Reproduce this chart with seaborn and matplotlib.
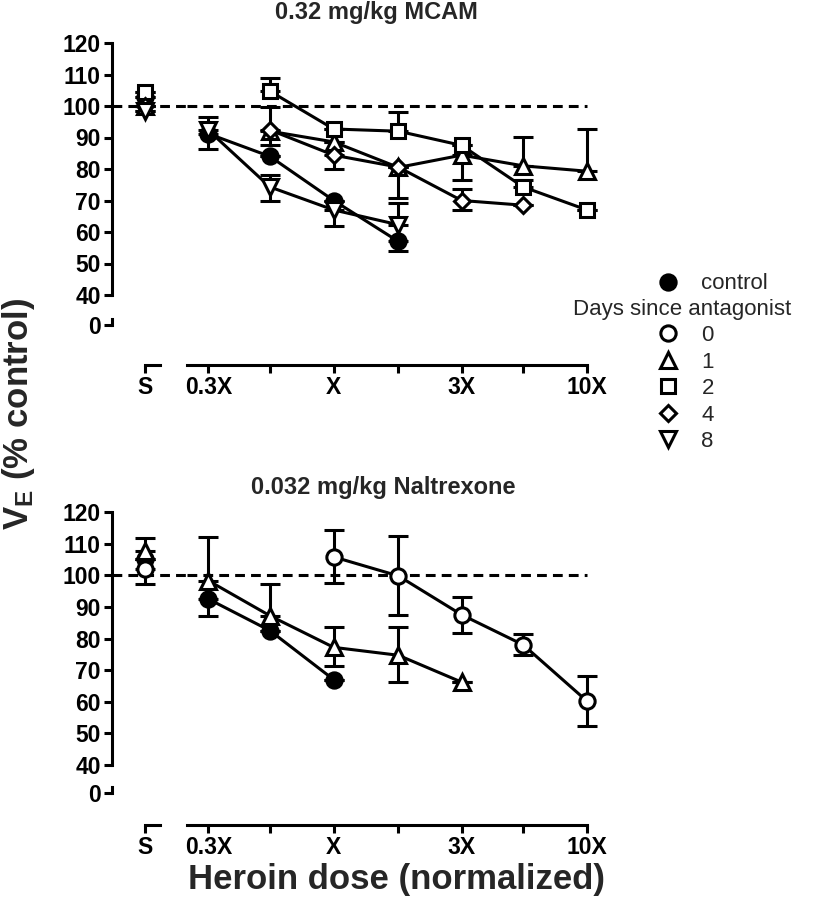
import matplotlib
matplotlib.use("Agg")
import numpy as np
import pandas as pd
import matplotlib.pyplot as plt
import seaborn as sns
from matplotlib.lines import Line2D
from matplotlib.ticker import NullLocator

# doses (fraction of X) and tick labels
doses = [0.32, 0.56, 1.0, 1.8, 3.2, 5.6, 10.0]
dose_labels = ["0.3X", "", "X", "", "3X", "", "10X"]
nan = np.nan

# ---- 0.32 mg/kg MCAM ----
mcam_s = {"control": 103, "1": 100, "2": 104.5, "4": 100, "8": 98.5}
mcam_control = [91.2, 84, 70, 57, nan, nan, nan]
mcam_control_lo = [5, 0, 0, 3, nan, nan, nan]
mcam_control_hi = [0, 0, 0, 0, nan, nan, nan]
mcam_d1 = [nan, 92, 88.6, 80.5, 84.4, 81, 79.3]
mcam_d1_lo = [nan, 0, 0, 0, 8, 0, 0]
mcam_d1_hi = [nan, 7.7, 0, 0, 0, 9.2, 13.5]
mcam_d2 = [nan, 104.7, 92.7, 92, 87.5, 74.3, 67]
mcam_d2_lo = [nan, 0, 0, 0, 0, 0, 0]
mcam_d2_hi = [nan, 4.2, 0, 6, 0, 2.3, 0]
mcam_d4 = [nan, 92.4, 84.4, 80.6, 70, 68.5, nan]
mcam_d4_lo = [nan, 4.8, 4.4, 9.8, 3, 0, nan]
mcam_d4_hi = [nan, 0, 0, 0, 3.6, 0, nan]
mcam_d8 = [92.3, 74.3, 67, 62.3, nan, nan, nan]
mcam_d8_lo = [0, 4.3, 5, 0, nan, nan, nan]
mcam_d8_hi = [4.2, 3.7, 0, 7, nan, nan, nan]

# ---- 0.032 mg/kg Naltrexone ----
nal_s = {"control": 105, "0": 102, "1": 107.8}
nal_s_lo = {"control": 0, "0": 4.7, "1": 0}
nal_s_hi = {"control": 0, "0": 0, "1": 4}
nal_control = [92.5, 82.5, 67, nan, nan, nan, nan]
nal_control_lo = [5.5, 0, 0, nan, nan, nan, nan]
nal_control_hi = [0, 0, 0, nan, nan, nan, nan]
nal_d0 = [nan, nan, 105.8, 99.8, 87.5, 78, 60.2]
nal_d0_lo = [nan, nan, 8.4, 12.5, 5.8, 3.3, 7.9]
nal_d0_hi = [nan, nan, 8.5, 12.6, 5.5, 3.5, 8]
nal_d1 = [98.3, 87.2, 77.2, 74.7, 66.2, nan, nan]
nal_d1_lo = [0, 0, 6, 8.5, 0, nan, nan]
nal_d1_hi = [13.7, 10, 6.3, 8.8, 0, nan, nan]

styles = {
    "control": ("o", "black"),
    "0": ("o", "white"),
    "1": ("^", "white"),
    "2": ("s", "white"),
    "4": ("D", "white"),
    "8": ("v", "white"),
}
msize = {"o": 11, "^": 11, "s": 10.5, "D": 8, "v": 11}

sns.set_theme(style="ticks")
plt.rcParams["font.family"] = ["Liberation Sans", "DejaVu Sans"]
plt.rcParams["mathtext.fontset"] = "custom"
plt.rcParams["mathtext.rm"] = "Liberation Sans"
plt.rcParams["mathtext.bf"] = "Liberation Sans:bold"

W, H = 825, 924
LW = 2.2
TICK_FS = 16.5
fig = plt.figure(figsize=(W / 100, H / 100), dpi=100)


def rect(x0, x1, y_top, y_bot):
    return [x0 / W, 1 - y_bot / H, (x1 - x0) / W, (y_bot - y_top) / H]


def draw_panel(y120, y40, yaxis, yzero, s_vals, s_lo, s_hi, series, title, title_xy):
    ppu = (y40 - y120) / 80.0
    ybot = 40 - (yaxis - y40) / ppu
    yax_x, s_px, gap_px, d_left, d_right = 112, 145, 187, 187, 600

    # S column
    axS = fig.add_axes(rect(yax_x, gap_px, y120, yaxis))
    axS.set_facecolor("none")
    axS.set_xlim(-(s_px - yax_x), gap_px - s_px)
    axS.set_ylim(ybot, 120)
    # dose column (log)
    axD = fig.add_axes(rect(d_left, d_right, y120, yaxis))
    axD.set_facecolor("none")
    axD.set_xscale("log")
    px_per_dec = 253.0
    xl0 = 10 ** (-0.5 - (207 - d_left) / px_per_dec)
    xl1 = 10 ** (1 + (d_right - 587) / px_per_dec)
    axD.set_xlim(xl0, xl1)
    axD.set_ylim(ybot, 120)

    for ax in (axS, axD):
        for sp in ax.spines.values():
            sp.set_linewidth(LW)
            sp.set_color("black")
        ax.spines["top"].set_visible(False)
        ax.spines["right"].set_visible(False)
        ax.tick_params(direction="out", length=6, width=LW, colors="black", pad=2)

    axS.spines["left"].set_bounds(40, 120)
    axS.spines["bottom"].set_bounds(0, 15)
    axS.set_yticks(range(40, 121, 10), [str(v) for v in range(40, 121, 10)],
                   fontsize=TICK_FS, fontweight="bold")
    axS.set_xticks([0], ["S"], fontsize=TICK_FS, fontweight="bold")

    axD.spines["left"].set_visible(False)
    axD.spines["bottom"].set_bounds(xl0, 10)
    axD.tick_params(left=False, labelleft=False)
    axD.set_xticks(doses, dose_labels, fontsize=TICK_FS, fontweight="bold")
    axD.xaxis.set_minor_locator(NullLocator())

    # dashed 100% reference
    axS.axhline(100, color="black", lw=LW, ls=(0, (3.2, 2.0)), zorder=1)
    axD.hlines(100, xl0, 10, color="black", lw=LW, ls=(0, (3.2, 2.0)), zorder=1)

    for key, (vals, lo, hi) in series.items():
        m, fc = styles[key]
        df = pd.DataFrame({"dose": doses, "ve": vals, "lo": lo, "hi": hi}).dropna()
        axD.errorbar(df["dose"], df["ve"], yerr=[df["lo"], df["hi"]], fmt="none",
                     ecolor="black", elinewidth=LW, capsize=7, capthick=LW, zorder=2)
        sns.lineplot(data=df, x="dose", y="ve", ax=axD, color="black", lw=LW,
                     marker=m, markersize=msize[m], markerfacecolor=fc,
                     markeredgecolor="black", markeredgewidth=LW,
                     errorbar=None, legend=False, zorder=3)
        # S point
        sdf = pd.DataFrame({"x": [0], "ve": [s_vals[key]]})
        axS.errorbar(sdf["x"], sdf["ve"], yerr=[[s_lo.get(key, 0)], [s_hi.get(key, 0)]],
                     fmt="none", ecolor="black", elinewidth=LW, capsize=7,
                     capthick=LW, zorder=2)
        sns.lineplot(data=sdf, x="x", y="ve", ax=axS, color="black", lw=0,
                     marker=m, markersize=msize[m], markerfacecolor=fc,
                     markeredgecolor="black", markeredgewidth=LW,
                     errorbar=None, legend=False, zorder=3)
    axS.set_xlabel("")
    axS.set_ylabel("")
    axD.set_xlabel("")
    axD.set_ylabel("")

    # broken y-axis stub at 0
    axZ = fig.add_axes(rect(yax_x, yax_x + 10, yzero - 12, yzero + 2))
    axZ.set_facecolor("none")
    axZ.set_ylim(-2 / ppu, 12 / ppu)
    for sp in ("top", "right", "bottom"):
        axZ.spines[sp].set_visible(False)
    axZ.spines["left"].set_linewidth(LW)
    axZ.spines["left"].set_color("black")
    axZ.spines["left"].set_bounds(0, 1.8)
    axZ.set_xticks([])
    axZ.set_yticks([0], ["0"], fontsize=TICK_FS, fontweight="bold")
    axZ.tick_params(direction="out", length=6, width=LW, colors="black", pad=2)

    fig.text(title_xy[0] / W, 1 - title_xy[1] / H, title, ha="center", va="center",
             fontsize=17, fontweight="bold")


draw_panel(43, 295, 365, 325,
           mcam_s, {}, {},
           {"control": (mcam_control, mcam_control_lo, mcam_control_hi),
            "1": (mcam_d1, mcam_d1_lo, mcam_d1_hi),
            "2": (mcam_d2, mcam_d2_lo, mcam_d2_hi),
            "4": (mcam_d4, mcam_d4_lo, mcam_d4_hi),
            "8": (mcam_d8, mcam_d8_lo, mcam_d8_hi)},
           "0.32 mg/kg MCAM", (376, 13))

draw_panel(512, 765, 825, 793,
           nal_s, nal_s_lo, nal_s_hi,
           {"control": (nal_control, nal_control_lo, nal_control_hi),
            "1": (nal_d1, nal_d1_lo, nal_d1_hi),
            "0": (nal_d0, nal_d0_lo, nal_d0_hi)},
           "0.032 mg/kg Naltrexone", (383, 487))

# axis labels
fig.text(397 / W, 1 - 880 / H, "Heroin dose (normalized)", ha="center", va="center",
         fontsize=25, fontweight="bold")
fig.text(19 / W, 1 - 414 / H, r"$\mathbf{V_E}$ (% control)", ha="center", va="center",
         rotation=90, fontsize=25, fontweight="bold")


# legend
def handle(key):
    m, fc = styles[key]
    return Line2D([], [], ls="none", marker=m, ms=msize[m], mfc=fc, mec="black", mew=LW)


LEG_FS = 16
fig.legend([handle("control")], ["control"], loc="center left",
           bbox_to_anchor=(657 / W, 1 - 284 / H), frameon=False, fontsize=LEG_FS,
           handlelength=1.0, handletextpad=1.0, borderpad=0, borderaxespad=0)
fig.text(573 / W, 1 - 310 / H, "Days since antagonist", ha="left", va="center",
         fontsize=LEG_FS)
day_keys = ["0", "1", "2", "4", "8"]
fig.legend([handle(k) for k in day_keys], day_keys, loc="upper left",
           bbox_to_anchor=(657 / W, 1 - 325 / H), frameon=False, fontsize=LEG_FS,
           handlelength=1.0, handletextpad=1.0, labelspacing=0.25,
           borderpad=0, borderaxespad=0)

fig.savefig("out.png", dpi=100)
